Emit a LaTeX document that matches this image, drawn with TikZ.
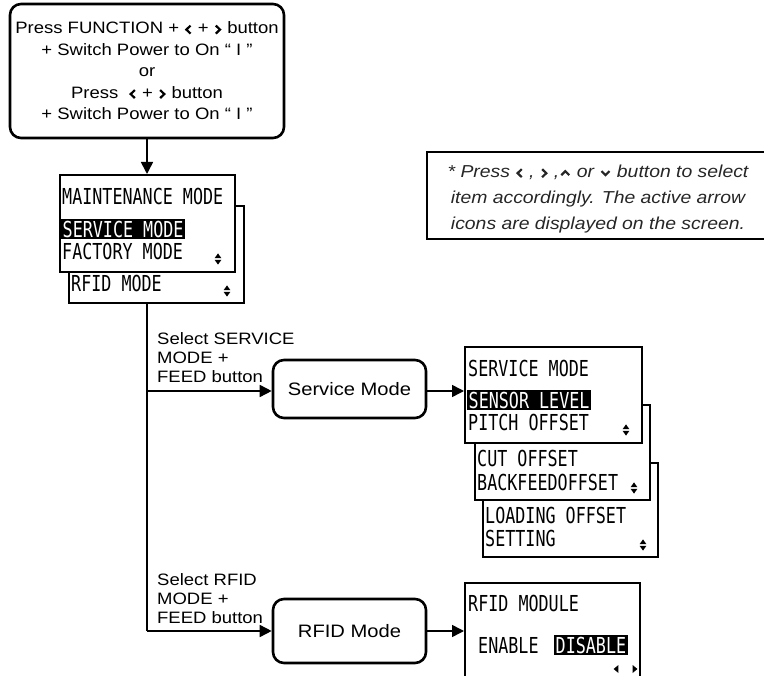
\documentclass[tikz,border=0pt]{standalone}
\usepackage{xcolor}
\usepackage{fontspec}
\setmainfont{Liberation Sans}[FakeStretch=1.12]
\newfontfamily\lcdfont{DejaVu Sans Mono}[FakeStretch=0.76]
\usetikzlibrary{shapes.geometric, arrows, arrows.meta, positioning, calc}

\newcommand{\keyL}{\hspace{1pt}\tikz[x=1pt,y=1pt,baseline=-4.3pt,sharp corners]{\draw[line width=2.2pt,line join=miter] (2.2,4) -- (-2,0) -- (2.2,-4);}\hspace{1pt}}
\newcommand{\keyR}{\hspace{1pt}\tikz[x=1pt,y=1pt,baseline=-4.3pt,sharp corners]{\draw[line width=2.2pt,line join=miter] (-2.2,4) -- (2,0) -- (-2.2,-4);}\hspace{1pt}}
\newcommand{\keyU}{\hspace{1pt}\tikz[x=1pt,y=1pt,baseline=-4.3pt,sharp corners]{\draw[line width=2.2pt,line join=miter] (-4,-2) -- (0,2) -- (4,-2);}\hspace{1pt}}
\newcommand{\keyD}{\hspace{1pt}\tikz[x=1pt,y=1pt,baseline=-4.3pt,sharp corners]{\draw[line width=2.2pt,line join=miter] (-4,2) -- (0,-2) -- (4,2);}\hspace{1pt}}
\newcommand{\updn}{\tikz[x=1pt,y=1pt,sharp corners]{\fill (-3.4,0.8) -- (0,5.6) -- (3.4,0.8) -- cycle; \fill (-3.4,-0.8) -- (0,-5.6) -- (3.4,-0.8) -- cycle;}}
\newcommand{\triL}{\tikz[x=1pt,y=1pt,sharp corners]{\fill (2.4,4) -- (-2.4,0) -- (2.4,-4) -- cycle;}}
\newcommand{\triR}{\tikz[x=1pt,y=1pt,sharp corners]{\fill (-2.4,4) -- (2.4,0) -- (-2.4,-4) -- cycle;}}
\newcommand{\hilite}[1]{{\setlength{\fboxsep}{1.5pt}\colorbox{black}{\textcolor{white}{#1}}}}

\tikzset{
  stepbox/.style={draw, line width=2.6pt, rounded corners=11pt, align=center, inner sep=0pt},
  screen/.style={draw, line width=2pt, fill=white, inner sep=0pt, minimum width=175pt},
  lcd/.style={anchor=west, inner sep=0pt, font=\lcdfont\fontsize{22}{24}\selectfont},
  icon/.style={inner sep=0pt},
  flow/.style={line width=1.6pt, -{Triangle[length=12pt,width=12pt]}},
  trunk/.style={line width=1.6pt},
  hint/.style={anchor=west, align=left, inner sep=0pt, font=\fontsize{16.5}{19}\selectfont},
}

\begin{document}
\begin{tikzpicture}[x=1pt,y=-1pt]
  \useasboundingbox (0,0) rectangle (764,676);
  \node[stepbox, minimum width=274pt, minimum height=134pt, font=\fontsize{16.5}{21.5}\selectfont] (start) at (147,71)
    {Press FUNCTION + \keyL\ + \keyR\ button\\+ Switch Power to On “ I ”\\or\\Press\ \ \keyL\ + \keyR\ button\\+ Switch Power to On “ I ”};

  \node[screen, minimum height=97pt] (mback) at (156.5,255) {};
  \node[lcd] (mrfid) at (71,283) {RFID MODE};
  \node[icon] (mbackud) at (227,291) {\updn};
  \node[screen, minimum height=97pt] (mfront) at (147.5,223.5) {};
  \node[lcd] (mtitle) at (62,196) {MAINTENANCE MODE};
  \node[lcd] (msvc) at (61,229) {\hilite{SERVICE MODE}};
  \node[lcd] (mfact) at (62,251) {FACTORY MODE};
  \node[icon] (mfrontud) at (218,259) {\updn};

  \draw[flow] (start.south) -- (start.south |- mfront.north);

  \node[draw, line width=2pt, minimum width=363pt, minimum height=87pt] (notebox) at (608.5,195.5) {};
  \node[align=center, inner sep=0pt, text=black!85, font=\itshape\fontsize{17.3}{26}\selectfont] (notetxt) at (598,199)
    {* Press \keyL{} , \keyR{} ,\keyU{} or \keyD{} button to select\\item accordingly. The active arrow\\icons are displayed on the screen.};

  \coordinate (svcturn) at (147,391);
  \coordinate (rfidturn) at (147,631);
  \draw[trunk] (mback.south -| start.south) -- (rfidturn);

  \node[stepbox, minimum width=153pt, minimum height=58pt, font=\fontsize{18}{20}\selectfont] (svcmode) at (349.5,389) {Service Mode};
  \node[stepbox, minimum width=153pt, minimum height=64pt, font=\fontsize{18}{20}\selectfont] (rfidmode) at (349.5,631) {RFID Mode};
  \node[hint] (svchint) at (157,358) {Select SERVICE\\MODE +\\FEED button};
  \node[hint] (rfidhint) at (157,599) {Select RFID\\MODE +\\FEED button};

  \node[screen, minimum height=94pt] (scr3) at (570.5,510) {};
  \node[lcd] (scr3a) at (485,515) {LOADING OFFSET};
  \node[lcd] (scr3b) at (485,538) {SETTING};
  \node[icon] (scr3ud) at (643,545) {\updn};
  \node[screen, minimum height=95pt] (scr2) at (562.5,452.5) {};
  \node[lcd] (scr2a) at (477,458) {CUT OFFSET};
  \node[lcd] (scr2b) at (477,482) {BACKFEEDOFFSET};
  \node[icon] (scr2ud) at (634,488) {\updn};
  \node[screen, minimum width=177pt, minimum height=96pt] (scr1) at (553.5,395) {};
  \node[lcd] (scr1t) at (468,368) {SERVICE MODE};
  \node[lcd] (scr1a) at (467,400) {\hilite{SENSOR LEVEL}};
  \node[lcd] (scr1b) at (468,422) {PITCH OFFSET};
  \node[icon] (scr1ud) at (626,430) {\updn};

  \node[screen, minimum height=110pt] (rfidscr) at (552.5,638) {};
  \node[lcd] (rfidt) at (468,603) {RFID MODULE};
  \node[lcd] (rfiden) at (478,645) {ENABLE};
  \node[lcd] (rfiddis) at (554,645) {\hilite{DISABLE}};
  \node[icon] (rfidleft) at (616,669) {\triL};
  \node[icon] (rfidright) at (635,669) {\triR};

  \draw[flow] (svcturn) -- (svcturn -| svcmode.west);
  \draw[flow] (svcturn -| svcmode.east) -- (svcturn -| scr1.west);
  \draw[flow] (rfidturn) -- (rfidmode.west);
  \draw[flow] (rfidmode.east) -- (rfidmode.east -| rfidscr.west);
\end{tikzpicture}
\end{document}
